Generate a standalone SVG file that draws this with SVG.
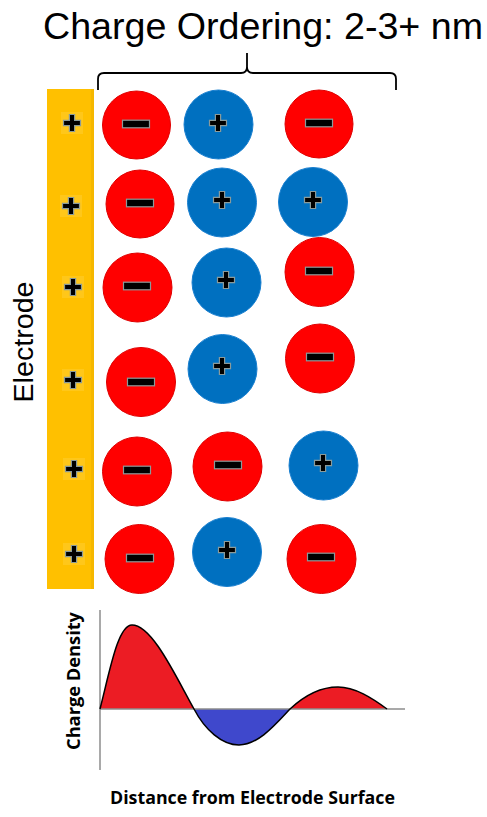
<svg xmlns="http://www.w3.org/2000/svg" xmlns:xlink="http://www.w3.org/1999/xlink" width="487" height="817" viewBox="0 0 487 817">
<style>
.neg{fill:#FF0000;stroke:#E00000;stroke-width:1}
.pos{fill:#0070C0;stroke:#1a80d0;stroke-width:1}
.sign{fill:#000;stroke:#8a9a9a;stroke-width:1.2}
.title{font-family:"Liberation Sans",Arial,sans-serif;font-size:36px;fill:#000}
.lab{font-family:"Liberation Sans",Arial,sans-serif;font-size:27px;fill:#000}
.axl{font-family:"Open Sans","DejaVu Sans",sans-serif;font-weight:bold;font-size:18px;fill:#000}
.axis{stroke:#8c8c8c;stroke-width:1.5;fill:none}
</style>
<defs>
<path id="plus" class="sign" d="M-2.6,-8.5 h5.2 v5.9 h5.9 v5.2 h-5.9 v5.9 h-5.2 v-5.9 h-5.9 v-5.2 h5.9 z"/>
<rect id="minus" class="sign" x="-13.5" y="-3.8" width="27" height="7.6"/>
</defs>
<rect width="487" height="817" fill="#fff"/>

<text class="title" x="43" y="39" textLength="440" lengthAdjust="spacingAndGlyphs">Charge Ordering: 2-3+ nm</text>

<g id="connectors">
<path id="bracket" d="M98,90 V79 Q98,73 104,73 H241 Q247,73 247,67 V53 M247,67 Q247,73 253,73 H390 Q396,73 396,79 V90" fill="none" stroke="#000" stroke-width="1.8"/>
</g>

<g id="electrode">
<rect x="47" y="89" width="47" height="500" fill="#FFC000"/>
<rect x="91" y="89" width="3" height="500" fill="#F5B800"/>
<g fill="#FFC71A">
<rect x="61" y="112" width="22" height="22"/>
<rect x="60" y="195" width="22" height="22"/>
<rect x="62" y="276" width="22" height="22"/>
<rect x="62" y="369" width="22" height="22"/>
<rect x="63" y="458" width="22" height="22"/>
<rect x="63" y="543" width="22" height="22"/>
</g>
<use xlink:href="#plus" x="72" y="123"/>
<use xlink:href="#plus" x="71" y="206"/>
<use xlink:href="#plus" x="73" y="287"/>
<use xlink:href="#plus" x="73" y="380"/>
<use xlink:href="#plus" x="74" y="469"/>
<use xlink:href="#plus" x="74" y="554"/>
</g>
<text class="lab" transform="translate(33,342) rotate(-90)" text-anchor="middle" textLength="121" lengthAdjust="spacingAndGlyphs">Electrode</text>

<g id="r1c1"><circle class="neg" cx="136.5" cy="125" r="34"/><use xlink:href="#minus" x="136" y="124"/></g>
<g id="r1c2"><circle class="pos" cx="218.5" cy="124.5" r="34.5"/><use xlink:href="#plus" x="218" y="123"/></g>
<g id="r1c3"><circle class="neg" cx="319" cy="124" r="34"/><use xlink:href="#minus" x="319" y="123"/></g>

<g id="r2c1"><circle class="neg" cx="140" cy="204" r="34"/><use xlink:href="#minus" x="140" y="203"/></g>
<g id="r2c2"><circle class="pos" cx="222" cy="202.5" r="34.5"/><use xlink:href="#plus" x="222" y="200"/></g>
<g id="r2c3"><circle class="pos" cx="313" cy="202" r="34.5"/><use xlink:href="#plus" x="313" y="200"/></g>

<g id="r3c1"><circle class="neg" cx="137.5" cy="287.5" r="34.5"/><use xlink:href="#minus" x="137" y="286"/></g>
<g id="r3c2"><circle class="pos" cx="226.5" cy="282.5" r="34.5"/><use xlink:href="#plus" x="226" y="280"/></g>
<g id="r3c3"><circle class="neg" cx="319.5" cy="272" r="34.5"/><use xlink:href="#minus" x="319" y="271"/></g>

<g id="r4c1"><circle class="neg" cx="141" cy="382" r="34.5"/><use xlink:href="#minus" x="141" y="382"/></g>
<g id="r4c2"><circle class="pos" cx="222.5" cy="369" r="34.5"/><use xlink:href="#plus" x="222" y="366"/></g>
<g id="r4c3"><circle class="neg" cx="320" cy="358.5" r="34.5"/><use xlink:href="#minus" x="320" y="357"/></g>

<g id="r5c1"><circle class="neg" cx="137" cy="471.5" r="34.5"/><use xlink:href="#minus" x="137" y="470"/></g>
<g id="r5c2"><circle class="neg" cx="227.5" cy="466.5" r="34.5"/><use xlink:href="#minus" x="228" y="465"/></g>
<g id="r5c3"><circle class="pos" cx="323.5" cy="465.5" r="34.5"/><use xlink:href="#plus" x="323" y="463"/></g>

<g id="r6c1"><circle class="neg" cx="139.5" cy="559" r="34.5"/><use xlink:href="#minus" x="140" y="558"/></g>
<g id="r6c2"><circle class="pos" cx="227" cy="552" r="34.5"/><use xlink:href="#plus" x="227" y="550"/></g>
<g id="r6c3"><circle class="neg" cx="321.5" cy="559" r="34.5"/><use xlink:href="#minus" x="321" y="557"/></g>

<g id="graph">
<path d="M100,709 C110,670 118,625 132,625 C152,625 175,675 194,709 Z" fill="#EC1C24"/>
<path d="M194,709 C205,730 222,745 239,745 C258,745 275,725 290,709 Z" fill="#3F48CC"/>
<path d="M290,709 C305,695 320,687 338,687 C355,687 372,698 387,709 Z" fill="#EC1C24"/>
<line class="axis" x1="100" y1="610" x2="100" y2="770"/>
<line class="axis" x1="100" y1="709" x2="405" y2="709"/>
<path d="M100,709 C110,670 118,625 132,625 C152,625 175,675 194,709 C205,730 222,745 239,745 C258,745 275,725 290,709 C305,695 320,687 338,687 C355,687 372,698 387,709" fill="none" stroke="#000" stroke-width="1.5"/>
</g>
<text class="axl" transform="translate(80,681) rotate(-90)" text-anchor="middle" textLength="138" lengthAdjust="spacingAndGlyphs">Charge Density</text>
<text class="axl" x="252.5" y="804" text-anchor="middle" textLength="285" lengthAdjust="spacingAndGlyphs">Distance from Electrode Surface</text>
</svg>
